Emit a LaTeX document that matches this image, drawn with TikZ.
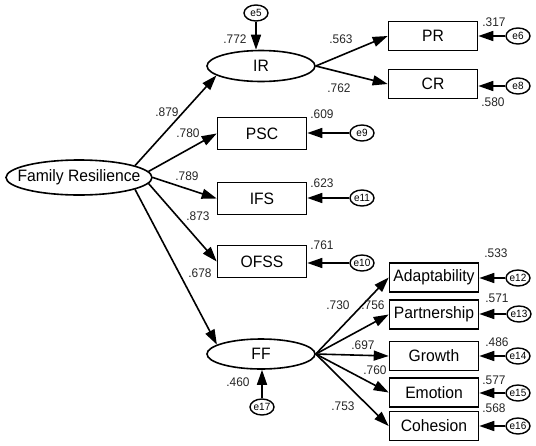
\documentclass[tikz,border=0pt]{standalone}
\usepackage{fontspec}
\setmainfont{Liberation Sans}[FakeStretch=0.95]
\usetikzlibrary{arrows.meta,shapes.geometric}
\tikzset{
  lat/.style={draw, ellipse, line width=1.6pt, inner sep=0pt, font=\fontsize{16.5}{18}\selectfont},
  obs/.style={draw, rectangle, line width=1.6pt, inner sep=0pt, minimum width=89pt, minimum height=29pt, font=\fontsize{16.5}{18}\selectfont},
  err/.style={draw, ellipse, line width=1.4pt, inner sep=0pt, minimum width=24pt, minimum height=16pt, font=\fontsize{10.5}{11}\selectfont},
  arr/.style={line width=1.6pt, -{Triangle[length=15pt,width=10pt]}},
  num/.style={inner sep=0pt, font=\fontsize{12.5}{13}\selectfont, text=black!85}
}
\begin{document}
\begin{tikzpicture}[x=1pt,y=-1pt]
\useasboundingbox (0,0) rectangle (536,445);
% latent
\node[lat, inner xsep=-12pt, minimum width=146pt, minimum height=35pt] (FR) at (79,177.5) {Family Resilience};
\node[lat, minimum width=108pt, minimum height=31pt] (IR) at (261,66) {IR};
\node[lat, minimum width=108pt, minimum height=30pt] (FF) at (261,354) {FF};
% observed
\node[obs] (PR) at (433,36) {PR};
\node[obs] (CR) at (433,84) {CR};
\node[obs, minimum height=32pt] (PSC) at (262,133.5) {PSC};
\node[obs, minimum height=32pt] (IFS) at (262,198.5) {IFS};
\node[obs, minimum height=32pt] (OFSS) at (262,261.5) {OFSS};
\node[obs] (Ad) at (434,277.5) {Adaptability};
\node[obs] (Pa) at (434,314.5) {Partnership};
\node[obs] (Gr) at (434,356) {Growth};
\node[obs] (Em) at (434,392.5) {Emotion};
\node[obs] (Co) at (434,426) {Cohesion};
% errors
\node[err] (e5) at (256,13) {e5};
\node[err] (e17) at (262,407) {e17};
\node[err] (e6) at (518,36) {e6};
\node[err] (e8) at (518,86) {e8};
\node[err] (e9) at (362,133) {e9};
\node[err] (e11) at (362,198) {e11};
\node[err] (e10) at (362,263) {e10};
\node[err] (e12) at (518,278) {e12};
\node[err] (e13) at (519,314) {e13};
\node[err] (e14) at (518,356) {e14};
\node[err] (e15) at (518,393) {e15};
\node[err] (e16) at (518,426) {e16};
% structural paths
\draw[arr] (FR.12) -- (IR.192);
\draw[arr] (FR.5) -- (PSC.west);
\draw[arr] (FR.east) -- (IFS.west);
\draw[arr] (FR.-5) -- (OFSS.west);
\draw[arr] (FR.-12) -- (FF.168);
\draw[arr] (IR.east) -- (PR.west);
\draw[arr] (IR.east) -- (CR.west);
\draw[arr] (FF.east) -- (Ad.west);
\draw[arr] (FF.east) -- (Pa.west);
\draw[arr] (FF.east) -- (Gr.west);
\draw[arr] (FF.east) -- (Em.west);
\draw[arr] (FF.east) -- (Co.west);
% error paths
\draw[arr] (e5) -- (e5 |- IR.north);
\draw[arr] (e17) -- (e17 |- FF.south);
\draw[arr] (e6) -- (e6 -| PR.east);
\draw[arr] (e8) -- (e8 -| CR.east);
\draw[arr] (e9) -- (e9 -| PSC.east);
\draw[arr] (e11) -- (e11 -| IFS.east);
\draw[arr] (e10) -- (e10 -| OFSS.east);
\draw[arr] (e12) -- (e12 -| Ad.east);
\draw[arr] (e13) -- (e13 -| Pa.east);
\draw[arr] (e14) -- (e14 -| Gr.east);
\draw[arr] (e15) -- (e15 -| Em.east);
\draw[arr] (e16) -- (e16 -| Co.east);
% numbers
\node[num] (n1) at (235,39) {.772};
\node[num] (n2) at (341,39) {.563};
\node[num] (n3) at (339,88) {.762};
\node[num] (n4) at (494,22) {.317};
\node[num] (n5) at (493,102) {.580};
\node[num] (n6) at (167,112) {.879};
\node[num] (n7) at (188,133) {.780};
\node[num] (n8) at (322,114) {.609};
\node[num] (n9) at (187,176) {.789};
\node[num] (n10) at (322,183) {.623};
\node[num] (n11) at (198,216) {.873};
\node[num] (n12) at (322,245) {.761};
\node[num] (n13) at (200,273) {.678};
\node[num] (n14) at (496,253) {.533};
\node[num] (n15) at (497,298) {.571};
\node[num] (n16) at (497,342) {.486};
\node[num] (n17) at (494,380) {.577};
\node[num] (n18) at (494,408) {.568};
\node[num] (n19) at (338,305) {.730};
\node[num] (n20) at (373,305) {.756};
\node[num] (n21) at (363,345) {.697};
\node[num] (n22) at (375,370) {.760};
\node[num] (n23) at (343,406) {.753};
\node[num] (n24) at (238,382) {.460};
\end{tikzpicture}
\end{document}
